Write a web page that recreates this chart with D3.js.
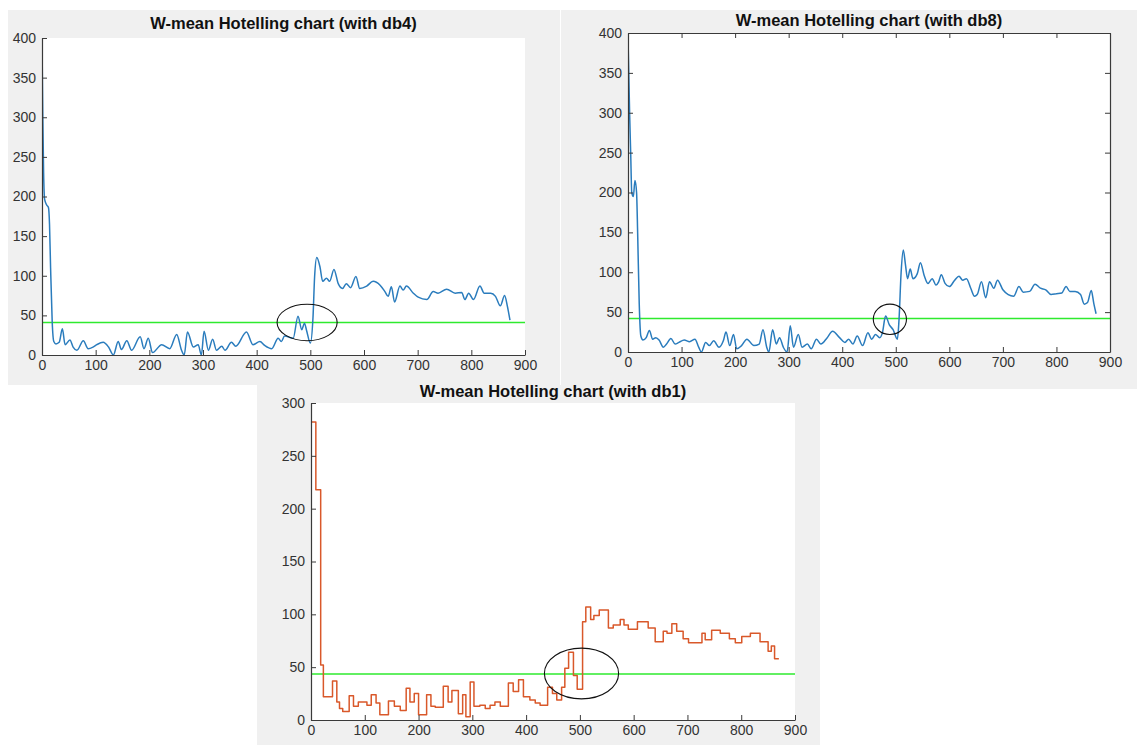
<!DOCTYPE html>
<html>
<head>
<meta charset="utf-8">
<script src="https://cdn.jsdelivr.net/npm/d3@7"></script>
<style>
  body { margin: 0; background: #fff; }
  svg { display: block; font-family: "Liberation Sans", Arial, sans-serif; }
</style>
</head>
<body>
<svg id="chart" width="1137" height="745"></svg>
<script>
// tick values shared by all three charts
const xTicks = [0, 100, 200, 300, 400, 500, 600, 700, 800, 900];
const yTicks400 = [0, 50, 100, 150, 200, 250, 300, 350, 400];
const yTicks300 = [0, 50, 100, 150, 200, 250, 300];

// db4 curve (sample index, value)
const db4X = [0, 1.5, 3, 5, 9, 12, 14, 16, 19, 22, 26, 32, 38, 43, 52, 58, 65, 77, 86, 95, 102, 114, 124, 133,
  142, 148, 158, 167, 183, 190, 198, 206, 223, 238, 251, 260, 265, 271, 282, 291, 297, 302, 310, 318, 325,
  335, 341, 353, 361, 381, 393, 406, 415, 428, 440, 446, 452, 468, 477, 484, 489, 493, 500, 505, 508, 512,
  518, 523, 530, 536, 544, 552, 560, 567, 575, 585, 592, 605, 617, 630, 639, 645, 651, 657, 667, 673, 679,
  692, 701, 717, 729, 738, 754, 770, 782, 788, 795, 804, 816, 824, 836, 845, 854, 862, 867, 872];
const db4Y = [395, 300, 230, 196, 189, 186, 165, 110, 42, 17, 14, 16, 33, 13, 19, 10, 6, 18, 8, 10, 13, 16, 10, 0,
  17, 7, 18, 6, 23, 8, 21, 3, 13, 8, 26, 6, 0, 29, 10, 13, 0, 30, 6, 20, 6,
  11, 6, 16, 11, 29, 13, 17, 12, 8, 21, 17, 24, 21, 49, 32, 40, 31, 15, 48, 99, 123,
  111, 93, 97, 93, 108, 90, 84, 90, 85, 99, 84, 87, 93, 88, 80, 74, 86, 67, 87, 82, 87,
  78, 73, 70, 80, 78, 83, 78, 79, 70, 78, 70, 87, 78, 78, 74, 62, 75, 62, 44];

// db8 curve
const db8X = [0, 3, 5, 7, 10, 13, 16, 18, 21, 24, 28, 34, 40, 46, 52, 58, 66, 72, 80, 88, 95, 105, 115, 125, 132,
  137, 145, 152, 160, 170, 178, 183, 190, 197, 203, 212, 222, 235, 245, 252, 259, 263, 270, 277, 283, 290,
  297, 303, 309, 318, 325, 335, 342, 352, 360, 372, 382, 395, 405, 412, 420, 428, 438, 448, 455, 462, 470,
  475, 481, 488, 495, 503, 506, 510, 514, 518, 522, 527, 532, 540, 546, 553, 560, 568, 575, 580, 585, 592,
  600, 610, 618, 625, 632, 640, 647, 652, 660, 668, 675, 683, 690, 700, 710, 720, 730, 738, 750, 760, 770,
  780, 790, 800, 810, 818, 825, 835, 845, 852, 858, 865, 870, 874];
const db8Y = [395, 300, 250, 200, 195, 215, 200, 150, 60, 20, 15, 18, 27, 16, 18, 15, 6, 10, 17, 10, 12, 15, 13, 16, 6,
  0, 12, 8, 14, 6, 14, 25, 8, 22, 4, 8, 16, 8, 10, 28, 6, 0, 28, 10, 18, 6,
  0, 33, 6, 22, 6, 10, 4, 16, 10, 18, 26, 18, 12, 16, 10, 20, 8, 24, 16, 22, 18,
  24, 45, 34, 28, 16, 40, 100, 128, 110, 92, 104, 92, 98, 112, 96, 86, 92, 84, 88, 97, 86,
  82, 90, 95, 90, 92, 80, 70, 72, 88, 68, 88, 80, 90, 78, 72, 70, 82, 75, 76, 85, 80,
  78, 72, 73, 74, 82, 76, 76, 72, 60, 62, 77, 60, 48];

// db1 staircase: step start and level
const db1X = [0, 9, 18, 23, 40, 48, 53, 59, 71, 79, 88, 104, 112, 121, 128, 144, 155, 166, 177, 184, 192, 200,
  215, 223, 231, 246, 255, 262, 274, 282, 288, 296, 303, 314, 324, 333, 342, 352, 367, 376, 386, 395, 407,
  417, 426, 440, 449, 457, 466, 472, 479, 488, 495, 505, 511, 520, 526, 536, 553, 562, 575, 582, 590, 607,
  627, 640, 655, 662, 671, 680, 692, 702, 727, 733, 745, 761, 778, 789, 801, 817, 835, 850, 856, 862, 870];
const db1Y = [282, 218, 52, 22, 37, 17, 11, 8, 23, 13, 17, 14, 24, 16, 5, 18, 13, 9, 30, 17, 25, 5,
  24, 13, 12, 32, 17, 28, 6, 24, 3, 36, 13, 14, 11, 14, 17, 13, 35, 27, 38, 22, 19,
  16, 14, 31, 25, 19, 31, 49, 64, 42, 29, 93, 107, 95, 99, 104, 87, 90, 95, 90, 86, 93,
  87, 74, 84, 82, 91, 84, 77, 73, 82, 76, 85, 82, 77, 73, 79, 82, 74, 65, 70, 58, 58];

// control limits and the circled region (centre x, centre y, half width, half height)
const limits = [41, 42, 43.5];
const circles = [[494, 41, 56, 23], [489, 41, 31, 19], [503, 44, 69, 24]];

const titles = ["W-mean Hotelling chart (with db4)", "W-mean Hotelling chart (with db8)", "W-mean Hotelling chart (with db1)"];

const svg = d3.select("#chart");
svg.append("rect").attr("width", 1137).attr("height", 745).attr("fill", "#fff");

function drawPanel(p) {
  let g = svg.append("g");
  g.append("rect").attr("x", p.bg[0]).attr("y", p.bg[1]).attr("width", p.bg[2]).attr("height", p.bg[3])
    .attr("fill", "#f0f0f0");
  g.append("rect").attr("x", p.left).attr("y", p.top)
    .attr("width", p.right - p.left).attr("height", p.bottom - p.top).attr("fill", "#fff");

  let x = d3.scaleLinear().domain([0, 900]).range([p.left, p.right]);
  let y = d3.scaleLinear().domain([0, p.ymax]).range([p.bottom, p.top]);

  // plot area clip so the lines stay inside
  let clipId = "clip" + p.id;
  g.append("clipPath").attr("id", clipId).append("rect")
    .attr("x", p.left).attr("y", p.top - 1).attr("width", p.right - p.left).attr("height", p.bottom - p.top + 1);

  let plot = g.append("g").attr("clip-path", "url(#" + clipId + ")");

  // threshold line
  plot.append("line")
    .attr("x1", x(0)).attr("x2", x(900))
    .attr("y1", y(p.limit)).attr("y2", y(p.limit))
    .attr("stroke", "#2eea2e").attr("stroke-width", 1.4);

  let pts = p.xs.map((d, i) => [d, p.ys[i]]);
  let line = d3.line().x(d => x(d[0])).y(d => y(d[1])).curve(p.curve);
  plot.append("path").datum(pts)
    .attr("d", line).attr("fill", "none")
    .attr("stroke", p.color).attr("stroke-width", 1.5).attr("stroke-linejoin", "round");

  // circled area
  let c = p.circle;
  g.append("ellipse")
    .attr("cx", x(c[0])).attr("cy", y(c[1]))
    .attr("rx", x(c[2]) - x(0)).attr("ry", y(0) - y(c[3]))
    .attr("fill", "none").attr("stroke", "#111").attr("stroke-width", 1.1);

  // axes, ticks pointing inwards like the original
  g.append("g").attr("transform", "translate(0," + p.bottom + ")")
    .call(d3.axisBottom(x).tickValues(xTicks).tickSize(-5).tickSizeOuter(0).tickPadding(5));
  g.append("g").attr("transform", "translate(" + p.left + ",0)")
    .call(d3.axisLeft(y).tickValues(p.yticks).tickSize(-5).tickSizeOuter(0).tickPadding(6));

  if (p.box) {
    g.append("g").attr("transform", "translate(0," + p.top + ")")
      .call(d3.axisTop(x).tickValues(xTicks).tickSize(-5).tickSizeOuter(0).tickFormat(""));
    g.append("g").attr("transform", "translate(" + p.right + ",0)")
      .call(d3.axisRight(y).tickValues(p.yticks).tickSize(-5).tickSizeOuter(0).tickFormat(""));
  }

  g.selectAll(".domain").attr("stroke", "#3a3a3a").attr("stroke-width", 1.2);
  g.selectAll(".tick line").attr("stroke", "#3a3a3a");
  g.selectAll(".tick text").attr("fill", "#333").style("font-size", "14px")
    .style("font-family", "'Liberation Sans', Arial, sans-serif");

  g.append("text")
    .attr("x", (p.left + p.right) / 2).attr("y", p.titleY)
    .attr("text-anchor", "middle")
    .style("font-weight", "bold").style("font-size", "16.5px").attr("fill", "#111")
    .text(p.title);
}

const panels = [
  { id: 1, bg: [8, 10, 552, 375], left: 42, top: 38, right: 525, bottom: 355, ymax: 400, yticks: yTicks400,
    xs: db4X, ys: db4Y, curve: d3.curveMonotoneX, color: "#2a7cbd", limit: limits[0], circle: circles[0],
    box: false, title: titles[0], titleY: 29 },
  { id: 2, bg: [561, 10, 576, 379], left: 628, top: 33, right: 1110, bottom: 352, ymax: 400, yticks: yTicks400,
    xs: db8X, ys: db8Y, curve: d3.curveMonotoneX, color: "#2a7cbd", limit: limits[1], circle: circles[1],
    box: true, title: titles[1], titleY: 26 },
  { id: 3, bg: [257, 385, 563, 360], left: 311, top: 403, right: 795, bottom: 720, ymax: 300, yticks: yTicks300,
    xs: db1X, ys: db1Y, curve: d3.curveStepAfter, color: "#d9582a", limit: limits[2], circle: circles[2],
    box: false, title: titles[2], titleY: 397 }
];

panels.forEach(drawPanel);
</script>
</body>
</html>
